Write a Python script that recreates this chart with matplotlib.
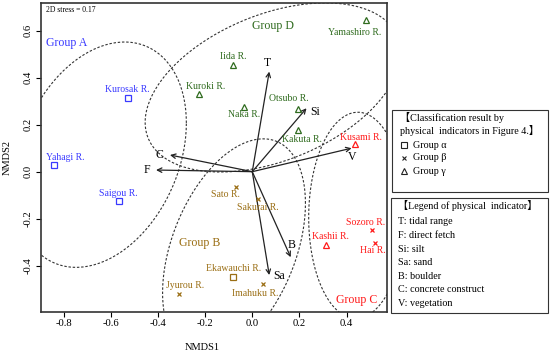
import numpy as np
import matplotlib.pyplot as plt
from matplotlib.patches import Rectangle

plt.rcParams['font.family'] = ['Liberation Serif', 'Noto Sans CJK JP', 'DejaVu Sans']
plt.rcParams['axes.unicode_minus'] = False

# NMDS site scores
sites = ['Kurosak R.', 'Yahagi R.', 'Saigou R.',
         'Iida R.', 'Kuroki R.', 'Naka R.', 'Yamashiro R.', 'Otsubo R.', 'Kakuta R.',
         'Kusami R.', 'Kashii R.', 'Sozoro R.', 'Hai R.',
         'Sato R.', 'Sakurai R.', 'Ekawauchi R.', 'Imahuku R.', 'Jyurou R.']
site_x = [-0.528, -0.839, -0.565,
          -0.081, -0.225, -0.035, 0.482, 0.192, 0.192,
          0.435, 0.312, 0.506, 0.520,
          -0.069, 0.025, -0.081, 0.047, -0.309]
site_y = [0.315, 0.027, -0.125,
          0.454, 0.331, 0.277, 0.646, 0.266, 0.177,
          0.118, -0.312, -0.248, -0.302,
          -0.064, -0.117, -0.449, -0.478, -0.520]
site_group = ['A', 'A', 'A',
              'D', 'D', 'D', 'D', 'D', 'D',
              'C', 'C', 'C', 'C',
              'B', 'B', 'B', 'B', 'B']
# classification by physical indicators (Figure 4)
site_class = ['alpha', 'alpha', 'alpha',
              'gamma', 'gamma', 'gamma', 'gamma', 'gamma', 'gamma',
              'gamma', 'gamma', 'beta', 'beta',
              'beta', 'beta', 'alpha', 'beta', 'beta']

# fitted vectors of physical indicators
vec_names = ['T', 'F', 'Si', 'Sa', 'B', 'C', 'V']
vec_x = [0.072, -0.408, 0.230, 0.072, 0.163, -0.349, 0.421]
vec_y = [0.426, 0.007, 0.270, -0.440, -0.364, 0.071, 0.100]
vec_desc = ['tidal range', 'direct fetch', 'silt', 'sand', 'boulder',
            'concrete construct', 'vegetation']

stress = 0.17

# --- styling / layout ---
colors = {'A': '#3a3aff', 'B': '#9a6e14', 'C': '#ff1a1a', 'D': '#2f6b1e'}
markers = {'alpha': 's', 'beta': 'x', 'gamma': '^'}
group_text_pos = {'A': (-0.786, 0.549), 'B': (-0.222, -0.302),
                  'C': (0.442, -0.546), 'D': (0.089, 0.620)}
# label offsets in pixels (dx, dy)
label_off = [(0, 8.4), (10.5, 8), (-1, 7.7),
             (0, 8.4), (6.5, 7.3), (0, -8.3), (-11, -12.3), (-8.4, 10.3), (4, -9.3),
             (6, 6.7), (5, 8.3), (-6.4, 7.7), (-2.5, -8),
             (-10.5, -7.3), (0, -8), (0, 8.3), (-8.5, -9.3), (5.7, 8)]
vec_label_off = [(-1.6, 8.4), (-9.3, 0), (8.3, -3.4), (10, -1), (1, 12.3),
                 (-10.7, 0), (1, -9)]

fig = plt.figure(figsize=(5.5, 3.52), dpi=100)
W, H = 550, 352
ax = fig.add_axes([40.7 / W, 1 - 311.7 / H, 346 / W, 308.7 / H])
ax.set_xlim(-0.897, 0.570)
ax.set_ylim(-0.596, 0.718)

# dispersion ellipses (sd, conf = 0.9)
k = np.sqrt(-2 * np.log(0.1))
t = np.linspace(0, 2 * np.pi, 200)
sx = np.array(site_x)
sy = np.array(site_y)
gr = np.array(site_group)
for g in 'ABCD':
    pts = np.vstack([sx[gr == g], sy[gr == g]])
    m = pts.mean(axis=1)
    L = np.linalg.cholesky(np.cov(pts))
    e = m[:, None] + k * L @ np.vstack([np.cos(t), np.sin(t)])
    ax.plot(e[0], e[1], color='#333333', lw=0.8, ls=(0, (2.2, 1.6)), zorder=1)

# vectors
for i, nm in enumerate(vec_names):
    ax.annotate('', xy=(vec_x[i], vec_y[i]), xytext=(0, 0),
                arrowprops=dict(arrowstyle='->', color='#222222', lw=0.9,
                                shrinkA=0, shrinkB=0, mutation_scale=8), zorder=3)
    ax.annotate(nm, (vec_x[i], vec_y[i]), xytext=vec_label_off[i],
                textcoords='offset pixels', ha='center', va='center',
                fontsize=8.5, color='black')

# sites
for i, nm in enumerate(sites):
    c = colors[site_group[i]]
    mk = markers[site_class[i]]
    ax.plot(site_x[i], site_y[i], marker=mk, ms=4 if mk != 'x' else 3.5,
            mfc='none', mec=c, mew=0.9, ls='none', zorder=4)
    ax.annotate(nm, (site_x[i], site_y[i]), xytext=label_off[i],
                textcoords='offset pixels', ha='center', va='center',
                fontsize=7, color=c)

for g, (gx, gy) in group_text_pos.items():
    ax.text(gx, gy, 'Group ' + g, color=colors[g], fontsize=8.6,
            ha='center', va='center')

ax.text(0.014, 0.978, '2D stress = %.2f' % stress, transform=ax.transAxes,
        fontsize=5.5, ha='left', va='center')

ax.set_xticks([-0.8, -0.6, -0.4, -0.2, 0.0, 0.2, 0.4])
ax.set_yticks([-0.4, -0.2, 0.0, 0.2, 0.4, 0.6])
ax.set_xticklabels(['%.1f' % v for v in ax.get_xticks()])
ax.set_yticklabels(['%.1f' % v for v in ax.get_yticks()], rotation=90, va='center')
ax.tick_params(direction='out', length=3.5, width=0.8, labelsize=7.7, pad=2)
ax.set_xlabel('NMDS1', fontsize=7.5)
ax.set_ylabel('NMDS2', fontsize=7.5)
ax.xaxis.set_label_coords((202.5 - 40.7) / 346, -0.1)
ax.yaxis.set_label_coords(-0.085, 0.5)
for s in ax.spines.values():
    s.set_linewidth(1.2)
    s.set_color('#333333')

# legend boxes drawn in pixel coordinates
ov = fig.add_axes([0, 0, 1, 1], zorder=5)
ov.set_xlim(0, W)
ov.set_ylim(H, 0)
ov.axis('off')
ov.patch.set_alpha(0)

ov.add_patch(Rectangle((392, 110), 156, 82, fill=False, ec='#333333', lw=0.8))
ov.text(400, 117.7, '【Classification result by', fontsize=7.3, va='center')
ov.text(400, 130.5, 'physical  indicators in Figure 4.】', fontsize=7.3, va='center')
cls_rows = [('alpha', 'Group α', 145), ('beta', 'Group β', 158), ('gamma', 'Group γ', 171)]
for cl, txt, yy in cls_rows:
    ov.plot(404.3, yy, marker=markers[cl], ms=3.8 if cl != 'beta' else 3.3,
            mfc='none', mec='#222222', mew=0.8, ls='none')
    ov.text(413.3, yy, txt, fontsize=7.3, va='center')

ov.add_patch(Rectangle((391, 198), 157, 115, fill=False, ec='#333333', lw=0.8))
ov.text(398, 205, '【Legend of physical  indicator】', fontsize=7.3, va='center')
for i, nm in enumerate(vec_names):
    ov.text(398, 222 + 13.6 * i, nm + ': ' + vec_desc[i], fontsize=7.3, va='center')

fig.savefig('out.png', dpi=100)
